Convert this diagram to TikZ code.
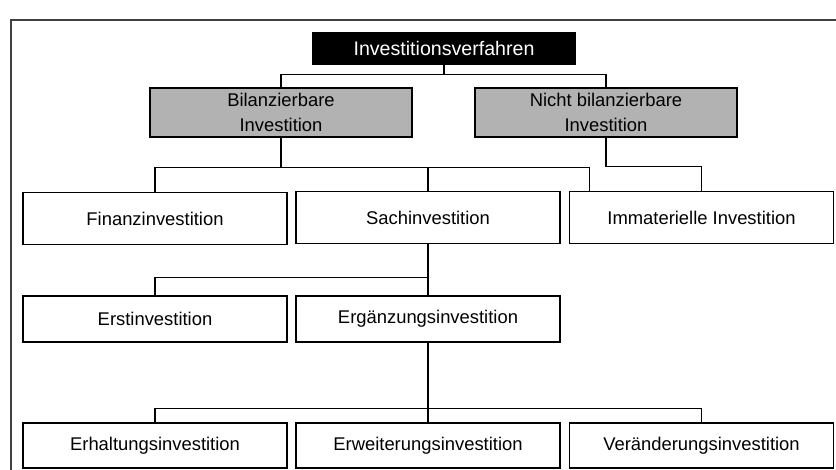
\documentclass[tikz,border=0pt]{standalone}
\usepackage{fontspec}
\setmainfont{Liberation Sans}
\begin{document}
\begin{tikzpicture}[x=1pt,y=-1pt,
  every node/.style={font=\fontsize{18.4}{24.5}\selectfont, align=center, inner sep=0pt},
  box/.style={draw=black, line width=1.2pt, fill=white, minimum width=264pt, minimum height=52pt},
  headbox/.style={draw=black, line width=1.2pt, fill=black, text=white, minimum width=262pt, minimum height=31pt, font=\fontsize{19.6}{24}\selectfont},
  graybox/.style={draw=black, line width=1.2pt, fill=gray!60, minimum width=262pt, minimum height=49pt},
  link/.style={draw=black, line width=1.1pt},
  frame/.style={draw=black!75, line width=1.6pt}]
\useasboundingbox (0,0) rectangle (836,470);
\begin{scope}
\clip (0,0) rectangle (836,470);
% outer frame of the page
\draw[frame] (11,480) -- (11,20) -- (850,20);
\end{scope}

% top level
\node[headbox] (top) at (444,48.5) {Investitionsverfahren};
% second level
\node[graybox] (bil)  at (281,112.5) {Bilanzierbare\\Investition};
\node[graybox] (nbil) at (606,112.5) {Nicht bilanzierbare\\Investition};
% third level
\node[box] (fin)   at (155,218.5) {Finanzinvestition};
\node[box] (sach)  at (428,217.5) {Sachinvestition};
\node[box] (immat) at (701.5,217.5) {Immaterielle Investition};
% fourth level
\node[box, minimum height=46pt] (erst) at (155,319) {Erstinvestition};
\node[box, minimum height=46pt] (erg)  at (428,319) {Ergänzungsinvestition};
% fifth level
\node[box, minimum height=45pt] (erh) at (155,445.5) {Erhaltungsinvestition};
\node[box, minimum height=45pt] (erw) at (428,445.5) {Erweiterungsinvestition};
\node[box, minimum height=45pt] (ver) at (701.5,445.5) {Veränderungsinvestition};

% connectors
\draw[link] (top.south) -- ++(0,10) -| (bil.north);
\draw[link] (top.south) -- ++(0,10) -| (nbil.north);

\draw[link] (bil.south) -- ++(0,30) -| (fin.north);
\draw[link] (bil.south) -- ++(0,30) -| (sach.north);
\draw[link] (bil.south) -- ++(0,30) -| ([xshift=21pt]immat.north west);
\draw[link] (nbil.south) -- ++(0,29) -| (immat.north);

\draw[link] (sach.south) -- ++(0,33) -| (erst.north);
\draw[link] (sach.south) -- (erg.north);

\draw[link] (erg.south) -- ++(0,66) -| (erh.north);
\draw[link] (erg.south) -- ++(0,66) -| (ver.north);
\draw[link] (erg.south) -- (erw.north);
\end{tikzpicture}
\end{document}
